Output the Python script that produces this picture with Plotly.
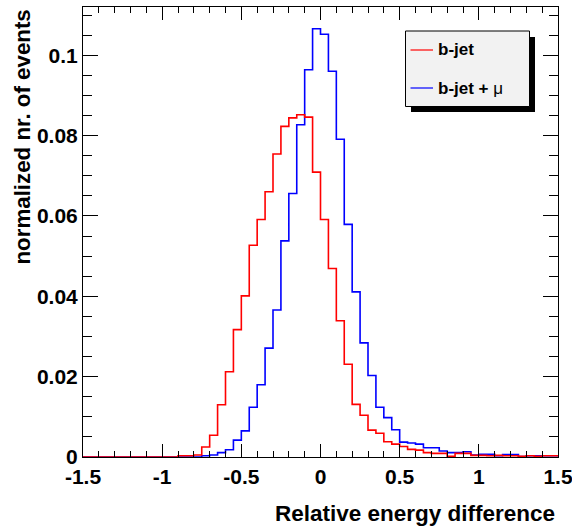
import plotly.graph_objects as go

# ---- data ----
bin_low = -1.5
bin_width = 0.05
n_bins = 60

bjet = [0, 0, 0, 0, 0, 0, 0, 0, 0, 0, 0, 0,
        0.0003, 0.0003, 0.0005, 0.0025, 0.0054, 0.0130, 0.0212, 0.0317,
        0.0401, 0.0527, 0.0591, 0.0660, 0.0754, 0.0823, 0.0844, 0.0852,
        0.0846, 0.0709, 0.0591, 0.0469, 0.0339, 0.0231, 0.0131, 0.0104,
        0.0067, 0.0059, 0.0038, 0.0032, 0.0026, 0.0019, 0.0017, 0.0011,
        0.0009, 0.0009, 0.0002, 0.0009, 0.0009, 0.0004, 0.0004, 0.0003,
        0.0004, 0.0003, 0.0003, 0.0002, 0.0003, 0.0002, 0.0003, 0.0003]

bjet_mu = [0, 0, 0, 0, 0, 0, 0, 0, 0, 0, 0, 0, 0, 0, 0,
           0.0003, 0.0005, 0.0011, 0.0018, 0.0042, 0.0065, 0.0124, 0.0180,
           0.0271, 0.0366, 0.0538, 0.0656, 0.0827, 0.0964, 0.1066, 0.1052,
           0.0960, 0.0791, 0.0579, 0.0411, 0.0284, 0.0203, 0.0124, 0.0098,
           0.0068, 0.0037, 0.0035, 0.0032, 0.0023, 0.0023, 0.0015, 0.0011,
           0.0011, 0.0013, 0.0005, 0.0007, 0.0007, 0.0003, 0.0006, 0.0006,
           0.0001, 0.0003, 0.0003, 0.0003, 0.0003]

x_tickvals = [-1.5, -1, -0.5, 0, 0.5, 1, 1.5]
x_ticktext = ["-1.5", "-1", "-0.5", "0", "0.5", "1", "1.5"]
y_tickvals = [0, 0.02, 0.04, 0.06, 0.08, 0.1]
y_ticktext = ["0", "0.02", "0.04", "0.06", "0.08", "0.1"]

series_names = ["b-jet", "b-jet + μ"]
series_colors = ["#ff0000", "#0000ff"]

edges = [bin_low + bin_width * i for i in range(n_bins + 1)]

# ---- layout geometry (pixels) ----
W, H = 572, 532
L, R, T, B = 83, 14, 7, 75
pw, ph = W - L - R, H - T - B


def px(xp):
    return (xp - L) / pw


def py(yp):
    return (H - B - yp) / ph


FONT = "Liberation Sans, Arial, Helvetica, sans-serif"

fig = go.Figure()
for vals, col in [(bjet_mu, series_colors[1]), (bjet, series_colors[0])]:
    fig.add_trace(go.Scatter(
        x=edges, y=vals + [vals[-1]], mode="lines",
        line=dict(color=col, width=1.6, shape="hv"),
        showlegend=False, hoverinfo="skip", cliponaxis=True))

axis_common = dict(
    showline=True, linecolor="black", linewidth=1, mirror="allticks",
    ticks="inside", tickcolor="black", tickwidth=1,
    showgrid=False, zeroline=False, automargin=False,
    ticklabeloverflow="allow",
    tickfont=dict(family=FONT, size=21, color="black", weight="bold"),
)

fig.update_xaxes(range=[-1.5, 1.5], tickvals=x_tickvals, ticktext=x_ticktext,
                 ticklen=13, ticklabelstandoff=1,
                 minor=dict(ticks="inside", dtick=0.1, ticklen=6,
                            tickcolor="black", tickwidth=1, showgrid=False),
                 **axis_common)
fig.update_yaxes(range=[0, 0.112], tickvals=y_tickvals, ticktext=y_ticktext,
                 ticklen=15,
                 minor=dict(ticks="inside", dtick=0.005, tick0=0, ticklen=9,
                            tickcolor="black", tickwidth=1, showgrid=False),
                 **axis_common)

shapes = [
    # legend shadow
    dict(type="rect", xref="paper", yref="paper",
         x0=px(411), x1=px(535), y0=py(112), y1=py(37),
         fillcolor="black", line=dict(width=0), layer="above"),
    # legend box
    dict(type="rect", xref="paper", yref="paper",
         x0=px(405.5), x1=px(529.5), y0=py(106.5), y1=py(31),
         fillcolor="#f2f2f2", line=dict(color="black", width=1), layer="above"),
]
annotations = []
for i, (name, col) in enumerate(zip(series_names, series_colors)):
    yy = [50, 88][i]
    shapes.append(dict(type="line", xref="paper", yref="paper",
                       x0=px(410.5), x1=px(433), y0=py(yy), y1=py(yy),
                       line=dict(color=col, width=1.2), layer="above"))
    label = "<b>b-jet</b>" if i == 0 else "<b>b-jet + </b>μ"
    annotations.append(dict(xref="paper", yref="paper", x=px(436), y=py(yy),
                            text=label, showarrow=False, xanchor="left",
                            yanchor="middle",
                            font=dict(family=FONT, size=17, color="black")))

annotations.append(dict(xref="paper", yref="paper", x=px(557), y=py(513),
                        text="<b>Relative energy difference</b>", showarrow=False,
                        xanchor="right", yanchor="middle",
                        font=dict(family=FONT, size=22.5, color="black")))
annotations.append(dict(xref="paper", yref="paper", x=px(22), y=py(8),
                        text="<b>normalized nr. of events</b>", showarrow=False,
                        textangle=-90, xanchor="center", yanchor="top",
                        font=dict(family=FONT, size=22.3, color="black")))

fig.update_layout(
    width=W, height=H,
    margin=dict(l=L, r=R, t=T, b=B, autoexpand=False),
    paper_bgcolor="white", plot_bgcolor="white",
    shapes=shapes, annotations=annotations,
    showlegend=False,
)

fig.write_html("out.html", config={"displayModeBar": False},
               post_script="document.body.style.margin='0';")
